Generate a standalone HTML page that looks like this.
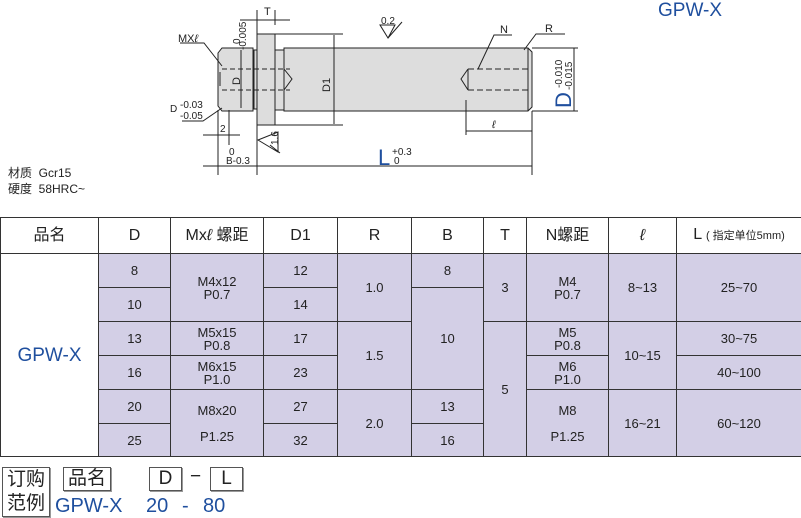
<!DOCTYPE html>
<html><head><meta charset="utf-8"><style>
body{margin:0;width:801px;height:517px;background:#fff;position:relative;overflow:hidden;font-family:"Liberation Sans","Noto Sans CJK SC",sans-serif;color:#222}
.a{position:absolute}
table{position:absolute;left:0;top:217px;border-collapse:collapse;width:801px;font-size:13px;table-layout:fixed}
td{border:1px solid #333;text-align:center;vertical-align:middle;padding:0;line-height:13px;background:#d3cfe6}
tr.h td{background:#fff;font-size:16px;height:35px}
td.w{background:#fff}
.box{position:absolute;border:1px solid #555;box-shadow:1px 1px 0 #999;font-size:19px;text-align:center}
</style></head><body>
<div class="a" style="left:658px;top:0px;font-size:19px;color:#1f4f9e">GPW-X</div>
<div class="a" style="left:8px;top:164px;font-size:12px">材质&nbsp; Gcr15</div>
<div class="a" style="left:8px;top:180px;font-size:12px">硬度&nbsp; 58HRC~</div>
<svg class="a" style="left:0;top:0" width="801" height="200">
<g stroke="#222" stroke-width="1" fill="#ddd">
<path d="M222,48 H253 V111 H222 L218,106 V53 Z"/>
<rect x="254" y="50" width="3" height="59"/>
<rect x="257" y="34" width="18" height="91"/>
<rect x="275" y="50" width="9" height="60"/>
<path d="M284,48 H528 L532,52 V107 L528,111 H284 Z"/>
</g>
<g stroke="#222" fill="none" stroke-width="1">
<line x1="528" y1="48" x2="528" y2="111"/>
<path d="M222,69 H290 M222,90 H290" stroke-dasharray="5,3"/>
<path d="M284,69 L292,79 L284,90"/>
<path d="M468,69 H528 M468,90 H528" stroke-dasharray="6,3"/>
<path d="M468,69 L461,79 L468,90 M468,69 V90"/>
<line x1="220" y1="72" x2="220" y2="86"/>
<line x1="241" y1="50" x2="241" y2="108"/>
<line x1="334" y1="35" x2="334" y2="124"/>
<line x1="275" y1="34" x2="343" y2="34"/><line x1="275" y1="125" x2="343" y2="125"/>
<line x1="532" y1="48" x2="578" y2="48"/><line x1="532" y1="111" x2="578" y2="111"/>
<line x1="574" y1="48" x2="574" y2="111"/>
<line x1="257" y1="10" x2="257" y2="175"/><line x1="275" y1="10" x2="275" y2="25"/>
<line x1="240" y1="20" x2="290" y2="20"/>
<line x1="218" y1="110" x2="218" y2="175"/><line x1="229" y1="110" x2="229" y2="145"/>
<line x1="203" y1="135" x2="240" y2="135"/>
<line x1="532" y1="111" x2="532" y2="175"/><line x1="466" y1="100" x2="466" y2="135"/>
<line x1="466" y1="131" x2="532" y2="131"/>
<line x1="203" y1="166" x2="532" y2="166"/>
<path d="M180,43 H204 L222,66"/><path d="M182,121 H203 L222,108"/>
<path d="M380,25 L395,25 L388,38 Z M388,38 L402,22"/>
<path d="M258,140 L278,132 L278,152 Z M270,145 L280,153"/>
<path d="M478,69 L494,35 H512"/><path d="M524,50 L536,34 H565"/>
</g>
<g font-size="11" fill="#222" font-family="Liberation Sans,sans-serif">
<text x="178" y="42">MX<tspan font-style="italic">ℓ</tspan></text>
<text x="264" y="15">T</text>
<text x="381" y="24" font-size="10">0.2</text>
<text x="500" y="33">N</text><text x="545" y="32">R</text>
<text x="170" y="112" font-size="10">D</text><text x="180" y="108" font-size="10">-0.03</text><text x="180" y="119" font-size="10">-0.05</text>
<text x="220" y="132" font-size="10">2</text>
<text x="229" y="155" font-size="10">0</text><text x="226" y="164" font-size="10">B-0.3</text>
<text x="492" y="128" font-style="italic">ℓ</text>
<text transform="translate(240,44) rotate(-90)" font-size="10">0</text>
<text transform="translate(246,50) rotate(-90)" font-size="10">-0.005</text>
<text transform="translate(240,85) rotate(-90)">D</text>
<text transform="translate(330,92) rotate(-90)">D1</text>
<text transform="translate(278,145) rotate(-90)" font-size="10">1.6</text>
<text transform="translate(562,88) rotate(-90)" font-size="10">-0.010</text>
<text transform="translate(572,90) rotate(-90)" font-size="10">-0.015</text>
<text transform="translate(571,108) rotate(-90)" font-size="22" fill="#1f4f9e">D</text>
<text x="378" y="165" font-size="22" fill="#1f4f9e">L</text>
<text x="392" y="155" font-size="10">+0.3</text><text x="394" y="164" font-size="10">0</text>
</g>
</svg>
<table>
<colgroup><col style="width:98px"><col style="width:72px"><col style="width:93px"><col style="width:74px"><col style="width:74px"><col style="width:72px"><col style="width:43px"><col style="width:82px"><col style="width:68px"><col style="width:125px"></colgroup>
<tr class="h"><td>品名</td><td>D</td><td>Mx<i>ℓ</i> 螺距</td><td>D1</td><td>R</td><td>B</td><td>T</td><td>N螺距</td><td><i>ℓ</i></td><td>L <span style="font-size:11px">( 指定单位5mm)</span></td></tr>
<tr style="height:34px"><td class="w" rowspan="6" style="color:#1f4f9e;font-size:19px">GPW-X</td><td>8</td><td rowspan="2">M4x12<br>P0.7</td><td>12</td><td rowspan="2">1.0</td><td>8</td><td rowspan="2">3</td><td rowspan="2">M4<br>P0.7</td><td rowspan="2">8~13</td><td rowspan="2">25~70</td></tr>
<tr style="height:34px"><td>10</td><td>14</td><td rowspan="3">10</td></tr>
<tr style="height:34px"><td>13</td><td>M5x15<br>P0.8</td><td>17</td><td rowspan="2">1.5</td><td rowspan="4">5</td><td>M5<br>P0.8</td><td rowspan="2">10~15</td><td>30~75</td></tr>
<tr style="height:34px"><td>16</td><td>M6x15<br>P1.0</td><td>23</td><td>M6<br>P1.0</td><td>40~100</td></tr>
<tr style="height:34px"><td>20</td><td rowspan="2">M8x20<br><br>P1.25</td><td>27</td><td rowspan="2">2.0</td><td>13</td><td rowspan="2">M8<br><br>P1.25</td><td rowspan="2">16~21</td><td rowspan="2">60~120</td></tr>
<tr style="height:33px"><td>25</td><td>32</td><td>16</td></tr>
</table>
<div class="box" style="left:2px;top:467px;width:46px;height:48px;line-height:24px">订购<br>范例</div>
<div class="box" style="left:63px;top:467px;width:46px;height:22px;line-height:22px">品名</div>
<div class="box" style="left:149px;top:467px;width:31px;height:22px;line-height:22px">D</div>
<div class="a" style="left:190px;top:466px;font-size:19px">−</div>
<div class="box" style="left:210px;top:467px;width:31px;height:22px;line-height:22px">L</div>
<div class="a" style="left:55px;top:495px;font-size:20px;color:#1f4f9e">GPW-X</div>
<div class="a" style="left:146px;top:495px;font-size:20px;color:#1f4f9e">20</div>
<div class="a" style="left:182px;top:495px;font-size:20px;color:#1f4f9e">-</div>
<div class="a" style="left:203px;top:495px;font-size:20px;color:#1f4f9e">80</div>
</body></html>
